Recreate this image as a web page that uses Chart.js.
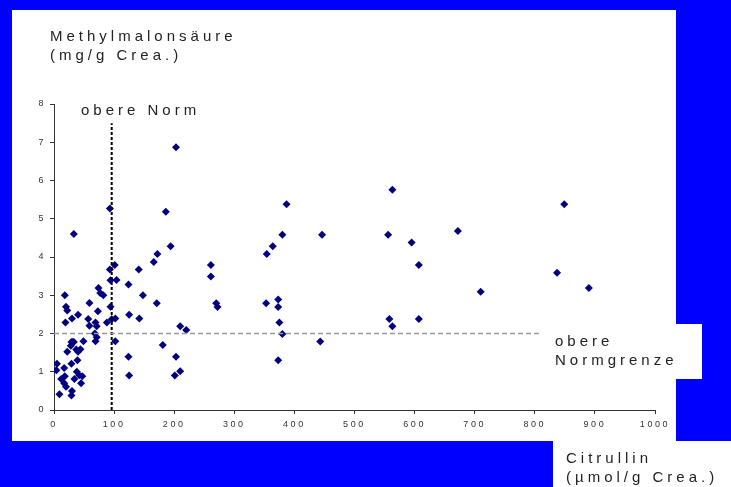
<!DOCTYPE html>
<html>
<head>
<meta charset="utf-8">
<script src="https://cdn.jsdelivr.net/npm/chart.js@4.4.1/dist/chart.umd.min.js"></script>
<style>
  html, body { margin: 0; padding: 0; background: #0000ff; }
  canvas { display: block; }
</style>
</head>
<body>
<canvas id="myChart" width="731" height="487"></canvas>
<script>
// Citrullin (x) vs Methylmalonsäure (y)
const citrullin = [4, 5, 9, 12, 17, 17, 18, 18, 19, 20, 20, 22, 22, 28, 29, 29, 30, 30, 31, 29, 33, 33, 34, 37, 38, 39, 40, 40, 42, 44, 45, 47, 49,
  57, 59, 59, 69, 68, 69, 71, 71, 73, 77, 74, 82, 88, 93, 93, 94, 94, 96, 101, 102, 102, 104,
  124, 124, 125, 125, 141, 142, 148, 166, 172, 171, 181, 186, 194, 201, 203, 203, 210, 210, 220,
  261, 261, 270, 272, 353, 354, 364, 373, 373, 375, 373, 380, 380, 387, 443, 446,
  556, 558, 563, 563, 595, 607, 607, 672, 710, 837, 849, 890];
const methylmalon = [1.04, 1.21, 0.41, 0.81, 0.7, 1.1, 0.88, 3.0, 2.29, 2.7, 0.61, 2.6, 1.52, 1.68, 1.21, 0.38, 2.39, 0.5, 1.78, 1.78, 1.78, 4.6, 0.81, 1.58, 1.0, 1.3, 2.49, 1.52, 0.91, 1.59, 0.7, 0.88, 1.8,
  2.38, 2.8, 2.2, 2.29, 2.0, 1.8, 2.19, 1.9, 2.58, 3.06, 3.19, 3.0, 2.29, 5.27, 3.67, 3.39, 2.7, 2.37, 3.79, 2.39, 1.8, 3.4,
  3.28, 1.39, 2.49, 0.9, 3.67, 2.39, 3.0, 3.87, 4.08, 2.79, 1.7, 5.18, 4.28, 0.9, 6.87, 1.39, 2.19, 1.01, 2.09,
  3.79, 3.49, 2.79, 2.69, 2.79, 4.08, 4.28, 2.89, 2.69, 2.29, 1.3, 4.58, 1.99, 5.38, 1.79, 4.58,
  4.58, 2.38, 5.76, 2.19, 4.38, 3.79, 2.38, 4.68, 3.09, 3.59, 5.38, 3.19];

// reference lines
const normGrenzeX = [0, 812];
const normGrenzeY = [2, 2];
const obereNormX = [96, 96];
const obereNormY = [0, 7.5];

// tick labels
const xTicks = [0, 100, 200, 300, 400, 500, 600, 700, 800, 900, 1000];
const yTicks = [0, 1, 2, 3, 4, 5, 6, 7, 8];

const points = citrullin.map((x, i) => ({ x: x, y: methylmalon[i] }));
const toXY = (xs, ys) => xs.map((x, i) => ({ x: x, y: ys[i] }));

//background panels and free text
const panels = {
  id: "panels",
  beforeDraw(chart) {
    const ctx = chart.ctx;
    ctx.save();
    ctx.fillStyle = "#0000ff";
    ctx.fillRect(0, 0, 731, 487);
    ctx.fillStyle = "#ffffff";
    ctx.fillRect(12, 10, 664, 431);
    ctx.fillRect(676, 324, 26, 55);
    ctx.fillRect(553, 441, 178, 46);
    ctx.restore();
    // spaced-out tick labels like the original
    ctx.letterSpacing = "2.6px";
  },
  afterDraw(chart) {
    const ctx = chart.ctx;
    ctx.save();
    ctx.fillStyle = "#222";
    ctx.font = "15px 'Liberation Sans', Arial, sans-serif";
    ctx.letterSpacing = "4px";
    ctx.textBaseline = "alphabetic";
    ctx.fillText("Methylmalonsäure", 50, 41);
    ctx.fillText("(mg/g Crea.)", 50, 60);
    ctx.fillText("obere Norm", 81, 115);
    ctx.fillText("obere", 555, 346);
    ctx.fillText("Normgrenze", 555, 365);
    ctx.fillText("Citrullin", 566, 463);
    ctx.fillText("(µmol/g Crea.)", 566, 482);
    ctx.restore();
  }
};

const ctx = document.getElementById("myChart").getContext("2d");
new Chart(ctx, {
  type: "scatter",
  data: {
    datasets: [
      {
        label: "obere Normgrenze",
        data: toXY(normGrenzeX, normGrenzeY),
        showLine: true,
        borderColor: "#999999",
        borderWidth: 1.5,
        borderDash: [5, 3],
        pointRadius: 0
      },
      {
        label: "obere Norm",
        data: toXY(obereNormX, obereNormY),
        showLine: true,
        borderColor: "#000000",
        borderWidth: 2,
        borderDash: [3, 2],
        pointRadius: 0
      },
      {
        label: "Methylmalonsäure",
        data: points,
        pointStyle: "rectRot",
        pointRadius: 4,
        backgroundColor: "#000080",
        borderColor: "#000080",
        borderWidth: 0
      }
    ]
  },
  options: {
    responsive: false,
    animation: false,
    devicePixelRatio: 1,
    layout: { padding: { left: 0, top: 104, right: 76, bottom: 0 } },
    plugins: {
      legend: { display: false },
      tooltip: { enabled: false }
    },
    scales: {
      x: {
        type: "linear",
        min: 0,
        max: 1000,
        afterBuildTicks: (s) => { s.ticks = xTicks.map((v) => ({ value: v })); },
        afterFit: (s) => { s.height = 77; },
        border: { display: true, color: "#333", width: 1 },
        grid: { drawOnChartArea: false, drawTicks: true, tickLength: 4, color: "#333" },
        ticks: {
          color: "#333",
          font: { family: "'Liberation Sans', Arial", size: 9 },
          padding: 5,
          maxRotation: 0,
          callback: (v) => String(v)
        }
      },
      y: {
        type: "linear",
        min: 0,
        max: 8,
        afterBuildTicks: (s) => { s.ticks = yTicks.map((v) => ({ value: v })); },
        afterFit: (s) => { s.width = 54; },
        border: { display: true, color: "#333", width: 1 },
        grid: { drawOnChartArea: false, drawTicks: true, tickLength: 4, color: "#333" },
        ticks: { color: "#333", font: { family: "'Liberation Sans', Arial", size: 9 }, padding: 4 }
      }
    }
  },
  plugins: [panels]
});
</script>
</body>
</html>
